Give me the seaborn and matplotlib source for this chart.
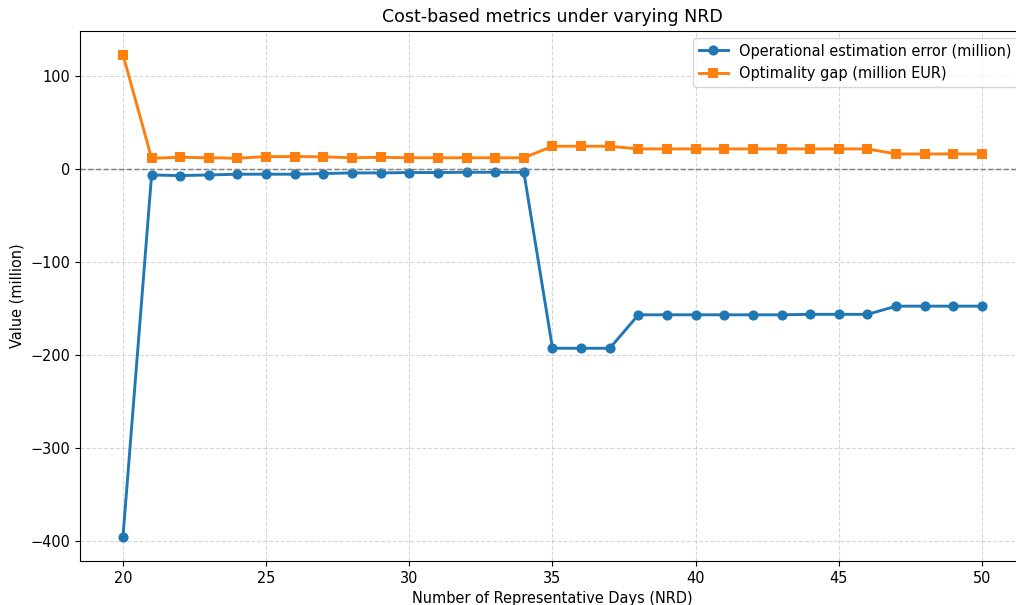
import matplotlib
matplotlib.use("Agg")
import matplotlib.pyplot as plt
import seaborn as sns
import pandas as pd

nrd = list(range(20, 51))
op_error = [-396, -6.5, -7.2, -6.5, -5.7, -5.7, -5.7, -5.0, -4.3, -4.3, -3.9, -3.9, -3.6, -3.6, -3.6,
            -193, -193, -193, -157, -157, -157, -157, -157, -157, -156.5, -156.5, -156.5,
            -147.7, -147.7, -147.7, -147.7]
opt_gap = [123, 11.5, 12.5, 12, 11.5, 13.3, 13.3, 13, 12, 12.5, 12, 12, 12, 12, 12,
           24.4, 24.4, 24.4, 21.5, 21.5, 21.5, 21.5, 21.5, 21.5, 21.5, 21.5, 21.5,
           16.1, 16.1, 16.1, 16.1]
labels = ["Operational estimation error (million)", "Optimality gap (million EUR)"]

df = pd.DataFrame({"NRD": nrd, labels[0]: op_error, labels[1]: opt_gap})

s = 1.045
plt.rcParams.update({"font.size": 10 * s, "axes.titlesize": 12 * s, "axes.labelsize": 10 * s,
                     "xtick.labelsize": 10 * s, "ytick.labelsize": 10 * s, "legend.fontsize": 10 * s})

fig = plt.figure(figsize=(10.16, 6.05), dpi=100)
ax = fig.add_axes([80 / 1016, 1 - 561 / 605, (1025 - 80) / 1016, (561 - 30.5) / 605])
sns.lineplot(data=df, x="NRD", y=labels[0], ax=ax, marker="o", markersize=7 * s,
             linewidth=2 * s, color="#1f77b4", label=labels[0], markeredgewidth=0)
sns.lineplot(data=df, x="NRD", y=labels[1], ax=ax, marker="s", markersize=7 * s,
             linewidth=2 * s, color="#ff7f0e", label=labels[1], markeredgewidth=0)
ax.axhline(0, color="gray", linestyle="--", linewidth=1 * s)
ax.grid(True, linestyle="--", alpha=0.5)
ax.set_xlabel("Number of Representative Days (NRD)")
ax.set_ylabel("Value (million)")
ax.set_title("Cost-based metrics under varying NRD")
ax.legend(loc="upper right")
fig.savefig("out.png", dpi=100)
